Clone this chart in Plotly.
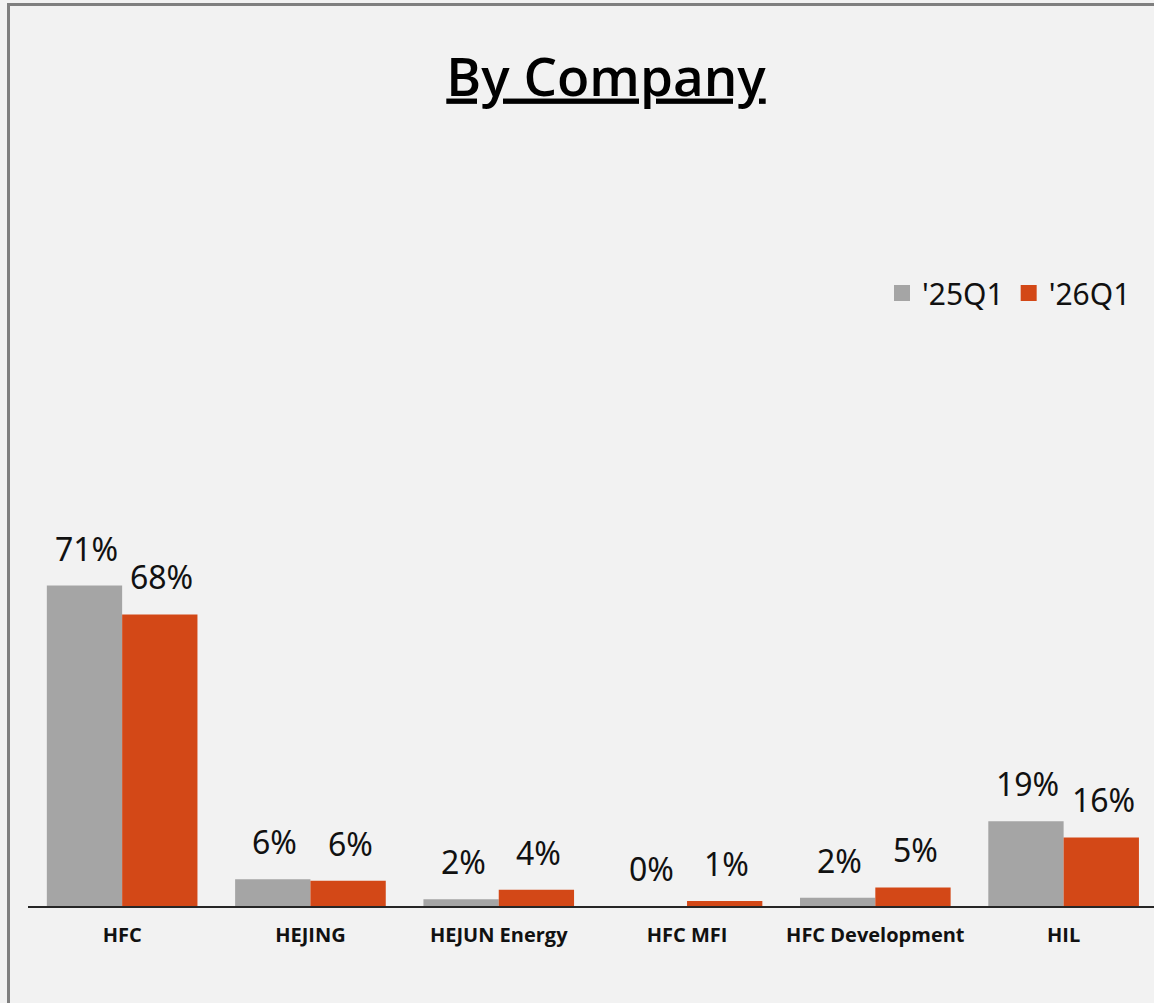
import plotly.graph_objects as go

companies = ['HFC', 'HEJING', 'HEJUN Energy', 'HFC MFI', 'HFC Development', 'HIL']
q25 = [71.0, 5.9, 1.5, 0.0, 1.8, 18.8]
q26 = [64.6, 5.6, 3.6, 1.1, 4.1, 15.2]
q25_labels = ['71%', '6%', '2%', '0%', '2%', '19%']
q26_labels = ['68%', '6%', '4%', '1%', '5%', '16%']

gray = '#A5A5A5'
orange = '#D34817'

# plot area in pixels, used for the frame shape
L, R, T, B = 28, 1154, 200, 906

def px_x(p):
    return (p - L) / (R - L)

def px_y(p):
    return (B - p) / (B - T)

fig = go.Figure()
fig.add_trace(go.Bar(x=companies, y=q25, name="'25Q1", showlegend=False,
                     marker=dict(color=gray, line=dict(width=0))))
fig.add_trace(go.Bar(x=companies, y=q26, name="'26Q1", showlegend=False,
                     marker=dict(color=orange, line=dict(width=0))))

# legend entries with bigger square swatches
for name, col in [("'25Q1", gray), ("'26Q1", orange)]:
    fig.add_trace(go.Scatter(x=[None], y=[None], mode='markers', name=name,
                             marker=dict(symbol='square', size=16, color=col)))

# data labels, sitting a bit above each bar
for vals, labels, shift in [(q25, q25_labels, -37.7), (q26, q26_labels, 37.7)]:
    for c, v, t in zip(companies, vals, labels):
        fig.add_annotation(x=c, y=v, text=t, showarrow=False, xshift=shift + 2, yshift=14,
                           yanchor='bottom', font=dict(family='Noto Sans', size=32, color='#111111'))

# outer frame (only top and left edges are visible)
fig.add_shape(type='rect', xref='paper', yref='paper',
              x0=px_x(8.5), x1=px_x(1175), y0=px_y(1025), y1=px_y(4.5),
              line=dict(color='#7F7F7F', width=3))

fig.update_layout(
    width=1154, height=1003,
    margin=dict(l=L, r=1154 - R, t=T, b=1003 - B),
    paper_bgcolor='#F2F2F2', plot_bgcolor='#F2F2F2',
    barmode='group', bargap=0.2, bargroupgap=0,
    title=dict(text='By Company', x=606 / 1154, xanchor='center', xref='container',
               y=1 - 77 / 1003, yanchor='middle', yref='container',
               font=dict(family='Open Sans', size=53, color='#000000', weight=600, lineposition='under')),
    legend=dict(orientation='h', x=px_x(1136), xanchor='right', y=px_y(293), yanchor='middle',
                bgcolor='rgba(0,0,0,0)', font=dict(family='Noto Sans', size=30, color='#111111'),
                itemsizing='trace', itemclick=False, itemwidth=30),
    xaxis=dict(range=[-0.5, 5.48], showline=True, linecolor='#262626', linewidth=2,
               showgrid=False, ticks='', ticklabelstandoff=10,
               tickfont=dict(family='Open Sans', size=20, color='#111111', weight=700)),
    yaxis=dict(range=[0, (B - T) / 4.514], visible=False, showgrid=False, zeroline=False),
    showlegend=True,
)

fig.write_html("out.html", config={'displayModeBar': False},
               post_script="document.body.style.margin='0';document.body.style.overflow='hidden';")
